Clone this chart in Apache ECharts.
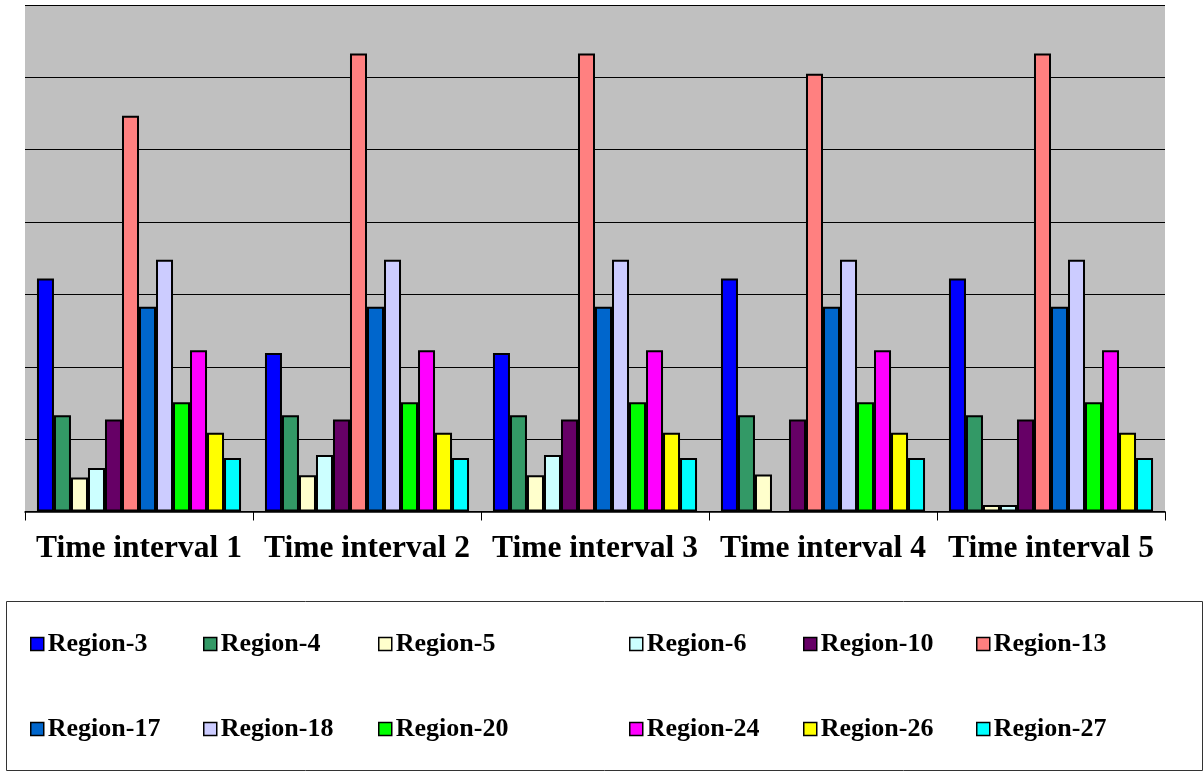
<!DOCTYPE html>
<html>
<head>
<meta charset="utf-8">
<script src="https://cdn.jsdelivr.net/npm/echarts@6/dist/echarts.min.js"></script>
<style>
  html, body { margin: 0; padding: 0; background: #ffffff; }
  #chart { width: 1204px; height: 772px; }
</style>
</head>
<body>
<div id="chart"></div>
<script>
// Categories along the x axis
const intervals = ['Time interval 1', 'Time interval 2', 'Time interval 3', 'Time interval 4', 'Time interval 5'];

// Series names and fill colours
const regions = ['Region-3', 'Region-4', 'Region-5', 'Region-6', 'Region-10', 'Region-13',
                 'Region-17', 'Region-18', 'Region-20', 'Region-24', 'Region-26', 'Region-27'];
const regionColors = ['#0000FF', '#339966', '#FFFFCC', '#CCFFFF', '#660066', '#FF8080',
                      '#0066CC', '#CCCCFF', '#00FF00', '#FF00FF', '#FFFF00', '#00FFFF'];

// Values per region, one per time interval
const region3  = [3.22, 2.19, 2.19, 3.22, 3.22];
const region4  = [1.33, 1.33, 1.33, 1.33, 1.33];
const region5  = [0.47, 0.50, 0.50, 0.51, 0.09];
const region6  = [0.60, 0.78, 0.78, null, 0.09];
const region10 = [1.27, 1.27, 1.27, 1.27, 1.27];
const region13 = [5.47, 6.33, 6.33, 6.05, 6.33];
const region17 = [2.83, 2.83, 2.83, 2.83, 2.83];
const region18 = [3.48, 3.48, 3.48, 3.48, 3.48];
const region20 = [1.51, 1.51, 1.51, 1.51, 1.51];
const region24 = [2.23, 2.23, 2.23, 2.23, 2.23];
const region26 = [1.09, 1.09, 1.09, 1.09, 1.09];
const region27 = [0.74, 0.74, 0.74, 0.74, 0.74];

const regionValues = [region3, region4, region5, region6, region10, region13,
                      region17, region18, region20, region24, region26, region27];

const serifBold = { fontFamily: '"Liberation Serif", "DejaVu Serif", serif', fontWeight: 'bold', color: '#000' };

const series = regions.map((name, i) => ({
  name: name,
  type: 'bar',
  data: regionValues[i],
  barGap: '0%',
  barCategoryGap: '10.5%',
  itemStyle: { color: regionColors[i], borderColor: '#000', borderWidth: 2 }
}));

// Legend laid out in a 2 x 6 grid, one component per entry
const legendCols = [30, 203, 378, 629, 803, 976];
const legendRows = [631, 716];
const legends = regions.map((name, i) => ({
  data: [name],
  left: legendCols[i % 6],
  top: legendRows[Math.floor(i / 6)],
  icon: 'rect',
  itemWidth: 13,
  itemHeight: 13,
  itemGap: 0,
  padding: 0,
  selectedMode: false,
  itemStyle: { borderColor: '#000', borderWidth: 1.5 },
  textStyle: Object.assign({ fontSize: 26, padding: [0, 0, 0, -1] }, serifBold)
}));

const chart = echarts.init(document.getElementById('chart'), null, { renderer: 'canvas' });
chart.setOption({
  animation: false,
  backgroundColor: '#ffffff',
  grid: {
    left: 25, right: 39, top: 5, bottom: 260.5,
    show: true, backgroundColor: '#C0C0C0', borderWidth: 0
  },
  legend: legends,
  graphic: [{
    type: 'rect',
    shape: { x: 6.5, y: 601.5, width: 1196, height: 169 },
    style: { fill: 'none', stroke: '#333', lineWidth: 1 },
    z: -1
  }],
  xAxis: {
    type: 'category',
    data: intervals,
    axisLine: { lineStyle: { color: '#000', width: 1.5 } },
    axisTick: { show: true, length: 9, lineStyle: { color: '#000' } },
    axisLabel: Object.assign({ fontSize: 31.5, margin: 21, interval: 0 }, serifBold)
  },
  yAxis: {
    type: 'value',
    min: 0, max: 7, interval: 1,
    axisLine: { show: false },
    axisTick: { show: false },
    axisLabel: { show: false },
    splitLine: { lineStyle: { color: '#000', width: 1 } }
  },
  series: series
});
</script>
</body>
</html>
